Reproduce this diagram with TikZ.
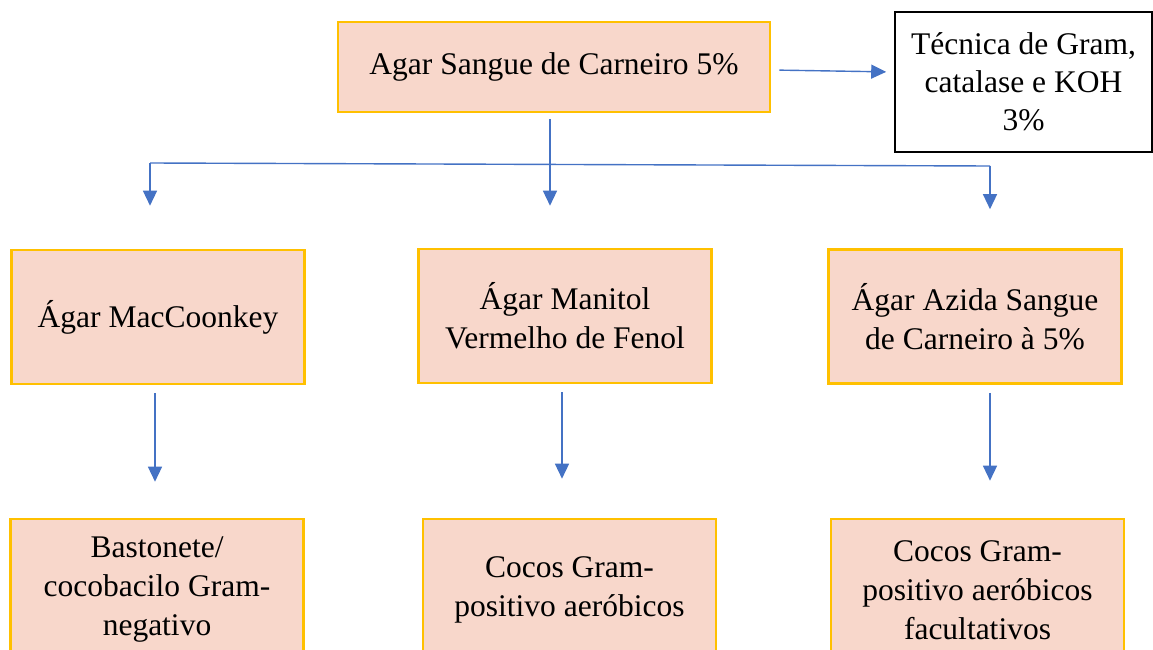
\documentclass[tikz,border=0pt]{standalone}
\usepackage{fontspec}
\setmainfont{Liberation Serif}
\usepackage{tikz}
\usetikzlibrary{arrows.meta}

\definecolor{boxfill}{HTML}{F8D7CB}
\definecolor{boxline}{HTML}{FFC000}
\definecolor{arrowblue}{HTML}{4472C4}

\tikzset{
    meio/.style={draw=boxline, fill=boxfill, line width=2.6pt, align=center,
        minimum width=293pt, minimum height=134pt, inner sep=0pt,
        font=\fontsize{31.5}{39}\selectfont},
    teste/.style={draw=black, line width=1.6pt, align=center, fill=white,
        minimum width=257pt, minimum height=140pt, inner sep=0pt,
        font=\fontsize{31.5}{38}\selectfont},
    seta/.style={draw=arrowblue, line width=1.4pt, -{Triangle[length=15pt, width=14pt]}},
    ligacao/.style={draw=arrowblue, line width=1.4pt}
}

\begin{document}
\begin{tikzpicture}[x=1pt, y=-1pt]
    \useasboundingbox (0,0) rectangle (1153,650);

    % Draw the first medium and the staining test
    \node[meio, minimum width=432pt, minimum height=90pt] (Sangue) at (554,67) {Agar Sangue de Carneiro 5\%};
    \node[teste] (Gram) at (1023.5,82) {Técnica de Gram,\\catalase e KOH\\3\%};

    % Draw the selective media
    \node[meio] (Mac) at (158,317) {Ágar MacCoonkey};
    \node[meio] (Manitol) at (565,316) {Ágar Manitol\\Vermelho de Fenol};
    \node[meio] (Azida) at (975,316.5) {Ágar Azida Sangue\\de Carneiro à 5\%};

    % Draw the results (cut by the page edge)
    \node[meio, minimum height=142pt] (Bast) at (157,590) {Bastonete/\\cocobacilo Gram-\\negativo};
    \node[meio, minimum height=142pt] (CocosA) at (569.5,590) {Cocos Gram-\\positivo aeróbicos};
    \node[meio, minimum height=142pt] (CocosF) at (977.5,590) {Cocos Gram-\\positivo aeróbicos\\facultativos};

    % Define coordinates for the branching line
    \coordinate (BusL) at (150,163);
    \coordinate (BusM) at (550,164);
    \coordinate (BusR) at (990,166);

    % Connect the boxes
    \draw[seta, shorten <=8pt, shorten >=8pt] ([yshift=-3pt]Sangue.east) -- ([yshift=10pt]Gram.west);
    \draw[ligacao] (BusL) -- (BusR);
    \draw[seta, shorten <=6pt, shorten >=42pt] (Sangue.south -| BusM) -- (BusM |- Manitol.north);
    \draw[seta, shorten >=43pt] (BusL) -- (BusL |- Mac.north);
    \draw[seta, shorten >=39pt] (BusR) -- (BusR |- Azida.north);

    \draw[seta, shorten <=8pt, shorten >=36pt] ([xshift=-3pt]Mac.south) -- ([xshift=-2pt]Bast.north);
    \draw[seta, shorten <=8pt, shorten >=39pt] ([xshift=-3pt]Manitol.south) -- ([xshift=-7.5pt]CocosA.north);
    \draw[seta, shorten <=8pt, shorten >=37pt] ([xshift=15pt]Azida.south) -- ([xshift=12.5pt]CocosF.north);

\end{tikzpicture}
\end{document}
